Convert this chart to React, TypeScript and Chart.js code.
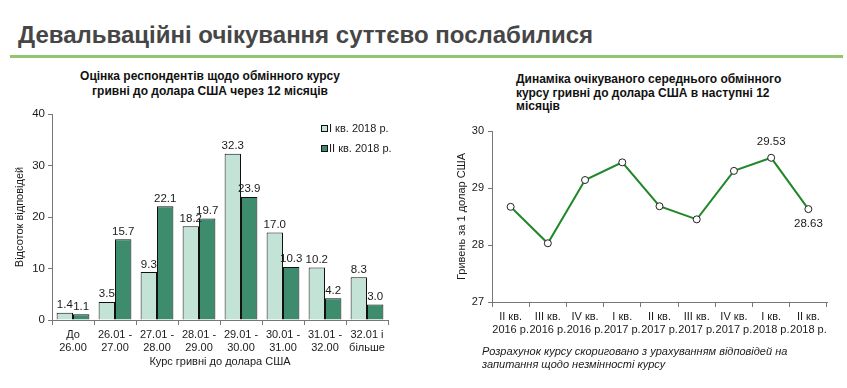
import React, { useEffect, useRef } from "react";
import { Chart, registerables } from "chart.js";

Chart.register(...registerables);

const pageTitle = "Девальваційні очікування суттєво послабилися";
const barTitle = ["Оцінка респондентів щодо обмінного курсу", "гривні до долара США через 12 місяців"];
const lineTitle = ["Динаміка очікуваного середнього обмінного", "курсу гривні до долара США в наступні 12", "місяців"];
const footnote = ["Розрахунок курсу скориговано з урахуванням відповідей на", "запитання щодо незмінності курсу"];

const rateBins = [
  ["До", "26.00"],
  ["26.01 -", "27.00"],
  ["27.01 -", "28.00"],
  ["28.01 -", "29.00"],
  ["29.01 -", "30.00"],
  ["30.01 -", "31.00"],
  ["31.01 -", "32.00"],
  ["32.01 і", "більше"],
];
const seriesNames = ["I кв. 2018 р.", "II кв. 2018 р."];
const q1_2018 = [1.4, 3.5, 9.3, 18.2, 32.3, 17.0, 10.2, 8.3];
const q2_2018 = [1.1, 15.7, 22.1, 19.7, 23.9, 10.3, 4.2, 3.0];
const barTicks = [0, 10, 20, 30, 40];

const quarters = [
  ["II кв.", "2016 р."],
  ["III кв.", "2016 р."],
  ["IV кв.", "2016 р."],
  ["I кв.", "2017 р."],
  ["II кв.", "2017 р."],
  ["III кв.", "2017 р."],
  ["IV кв.", "2017 р."],
  ["I кв.", "2018 р."],
  ["II кв.", "2018 р."],
];
const expectedRate = [28.67, 28.03, 29.14, 29.45, 28.68, 28.45, 29.3, 29.53, 28.63];
const lineTicks = [27, 28, 29, 30];

const FONT = "'Liberation Sans', Arial, sans-serif";
const TEXT = "#1a1a1a";
const LIGHT = "#c3e3d6";
const DARK = "#3d8c6e";
const LINE = "#20882a";

const barLabelPlugin = {
  id: "barLabels",
  afterDatasetsDraw(chart: any) {
    const ctx = chart.ctx;
    ctx.save();
    ctx.font = `11.5px ${FONT}`;
    ctx.fillStyle = TEXT;
    ctx.textAlign = "center";
    ctx.textBaseline = "bottom";
    chart.data.datasets.forEach((ds: any, di: number) => {
      const meta = chart.getDatasetMeta(di);
      meta.data.forEach((el: any, i: number) => {
        ctx.fillText(Number(ds.data[i]).toFixed(1), el.x, el.y - 2);
      });
    });
    ctx.restore();
  },
};

const lineLabelPlugin = {
  id: "lineLabels",
  afterDatasetsDraw(chart: any) {
    const ctx = chart.ctx;
    const ds = chart.data.datasets[0];
    const meta = chart.getDatasetMeta(0);
    const n = ds.data.length;
    ctx.save();
    ctx.font = `11.5px ${FONT}`;
    ctx.fillStyle = TEXT;
    ctx.textAlign = "center";
    ctx.textBaseline = "middle";
    const show = [
      { i: n - 2, dy: -16 },
      { i: n - 1, dy: 15 },
    ];
    show.forEach(({ i, dy }) => {
      const el = meta.data[i];
      ctx.fillText(Number(ds.data[i]).toFixed(2), el.x, el.y + dy);
    });
    ctx.restore();
  },
};

function BarChart() {
  const ref = useRef<HTMLCanvasElement>(null);
  useEffect(() => {
    const chart = new Chart(ref.current!, {
      type: "bar",
      data: {
        labels: rateBins,
        datasets: [
          { label: seriesNames[0], data: q1_2018, backgroundColor: LIGHT, borderColor: "#111", borderWidth: 1 },
          { label: seriesNames[1], data: q2_2018, backgroundColor: DARK, borderColor: "#111", borderWidth: 1 },
        ],
      },
      options: {
        responsive: false,
        animation: false,
        layout: { padding: { top: 14, right: 32, left: 0, bottom: 0 } },
        datasets: { bar: { barPercentage: 1, categoryPercentage: 0.78 } },
        plugins: { legend: { display: false }, tooltip: { enabled: false }, title: { display: false } },
        scales: {
          x: {
            afterFit: (s: any) => { s.height = 55; },
            grid: { display: true, drawOnChartArea: false, tickLength: 5, color: "#777", offset: true },
            border: { display: true, color: "#777" },
            ticks: { font: { family: FONT, size: 11 }, color: TEXT, padding: 3, maxRotation: 0, autoSkip: false },
            title: { display: true, text: "Курс гривні до долара США", font: { family: FONT, size: 11 }, color: TEXT, padding: { top: 0, bottom: 6 } },
          },
          y: {
            min: 0,
            max: 40,
            afterFit: (s: any) => { s.width = 52; },
            afterBuildTicks: (s: any) => { s.ticks = barTicks.map((v) => ({ value: v })); },
            grid: { display: true, drawOnChartArea: false, tickLength: 4, color: "#777" },
            border: { display: true, color: "#777" },
            ticks: { font: { family: FONT, size: 11.5 }, color: TEXT, padding: 3 },
            title: { display: true, text: "Відсоток відповідей", font: { family: FONT, size: 11 }, color: TEXT, padding: { top: 13, bottom: 0 } },
          },
        },
      },
      plugins: [barLabelPlugin],
    });
    return () => chart.destroy();
  }, []);
  return <canvas ref={ref} width={420} height={275} style={{ position: "absolute", left: 0, top: 100 }} />;
}

function LineChart() {
  const ref = useRef<HTMLCanvasElement>(null);
  useEffect(() => {
    const chart = new Chart(ref.current!, {
      type: "line",
      data: {
        labels: quarters,
        datasets: [
          {
            label: "Очікуваний курс",
            data: expectedRate,
            borderColor: LINE,
            borderWidth: 2,
            pointRadius: 3.5,
            pointBackgroundColor: "#fff",
            pointBorderColor: "#222",
            pointBorderWidth: 1,
            tension: 0,
          },
        ],
      },
      options: {
        responsive: false,
        animation: false,
        layout: { padding: { top: 13, right: 20, left: 0, bottom: 0 } },
        plugins: { legend: { display: false }, tooltip: { enabled: false }, title: { display: false } },
        scales: {
          x: {
            offset: true,
            afterFit: (s: any) => { s.height = 56; },
            grid: { display: true, drawOnChartArea: false, tickLength: 5, color: "#777", offset: true },
            border: { display: true, color: "#777" },
            ticks: { font: { family: FONT, size: 11 }, color: TEXT, padding: 3, maxRotation: 0, autoSkip: false },
          },
          y: {
            min: 27,
            max: 30,
            afterFit: (s: any) => { s.width = 72; },
            afterBuildTicks: (s: any) => { s.ticks = lineTicks.map((v) => ({ value: v })); },
            grid: { display: true, drawOnChartArea: false, tickLength: 4, color: "#777" },
            border: { display: true, color: "#777" },
            ticks: { font: { family: FONT, size: 11 }, color: TEXT, padding: 4 },
            title: { display: true, text: "Гривень за 1 долар США", font: { family: FONT, size: 11 }, color: TEXT, padding: { top: 35, bottom: 0 } },
          },
        },
      },
      plugins: [lineLabelPlugin],
    });
    return () => chart.destroy();
  }, []);
  return <canvas ref={ref} width={427} height={240} style={{ position: "absolute", left: 420, top: 118 }} />;
}

export default function App() {
  const abs = (s: React.CSSProperties): React.CSSProperties => ({ position: "absolute", ...s });
  return (
    <div style={abs({ left: 0, top: 0, width: 847, height: 388, background: "#fff", overflow: "hidden", fontFamily: FONT, color: TEXT })}>
      <div style={abs({ left: 18, top: 21, fontFamily: FONT, fontWeight: "bold", fontSize: 24, color: "#464646", whiteSpace: "nowrap", lineHeight: "28px" })}>
        {pageTitle}
      </div>
      <div style={abs({ left: 10, top: 55, width: 833, height: 3, background: "#93c470" })} />
      <div style={abs({ left: 0, top: 69, width: 420, textAlign: "center", fontWeight: "bold", fontSize: 12, lineHeight: "15px", color: "#111" })}>
        {barTitle.map((t, i) => <div key={i}>{t}</div>)}
      </div>
      <div style={abs({ left: 516, top: 73, fontWeight: "bold", fontSize: 12, lineHeight: "13.5px", color: "#111", whiteSpace: "nowrap" })}>
        {lineTitle.map((t, i) => <div key={i}>{t}</div>)}
      </div>
      <BarChart />
      <LineChart />
      <div style={abs({ left: 321, top: 119, fontSize: 11, lineHeight: "19.5px", whiteSpace: "nowrap" })}>
        {seriesNames.map((n, i) => (
          <div key={i} style={{ display: "flex", alignItems: "center" }}>
            <span style={{ display: "inline-block", width: 5, height: 5, border: "1px solid #111", background: i === 0 ? LIGHT : DARK, marginRight: 1 }} />
            <span>{n}</span>
          </div>
        ))}
      </div>
      <div style={abs({ left: 482, top: 345, fontStyle: "italic", fontSize: 11, lineHeight: "12.5px", whiteSpace: "nowrap" })}>
        {footnote.map((t, i) => <div key={i}>{t}</div>)}
      </div>
    </div>
  );
}
